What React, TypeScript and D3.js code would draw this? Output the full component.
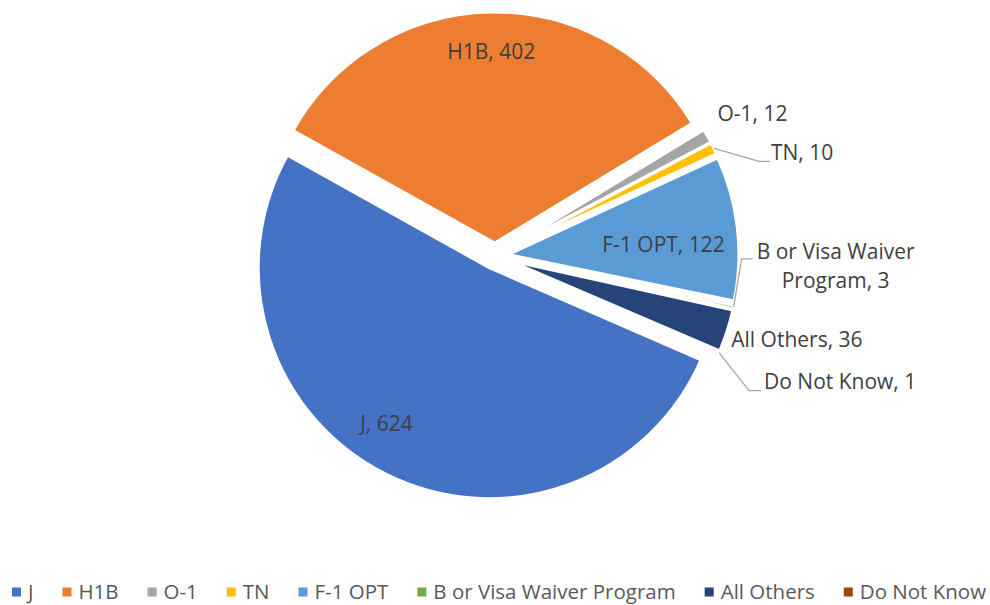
import { useMemo } from "react";
import * as d3 from "d3";

// visa categories and head counts
const categories = [
  "J",
  "H1B",
  "O-1",
  "TN",
  "F-1 OPT",
  "B or Visa Waiver Program",
  "All Others",
  "Do Not Know",
];
const counts = [624, 402, 12, 10, 122, 3, 36, 1];
const colors = ["#4472C4", "#ED7D31", "#A5A5A5", "#FFC000", "#5B9BD5", "#70AD47", "#264478", "#9E480E"];

// label placement (layout only): inside labels use polar offsets, outside ones pixel offsets from the arc edge
type LabelPos =
  | { kind: "in"; r: number; da: number }
  | { kind: "out"; tx: number; ty: number; anchor?: string; leader?: [number, number][] };
const labelPos: LabelPos[] = [
  { kind: "in", r: 0.81, da: 7 },
  { kind: "in", r: 0.83, da: 0 },
  { kind: "out", tx: 10, ty: -22 },
  { kind: "out", tx: 57, ty: 4, leader: [[45, 13], [56, 13]] },
  { kind: "in", r: 0.675, da: 3 },
  { kind: "out", tx: 102, ty: -55, anchor: "middle", leader: [[8, -48], [19, -48]] },
  { kind: "out", tx: 4, ty: 9 },
  { kind: "out", tx: 45, ty: 29, leader: [[30, 38], [42, 38]] },
];

const W = 990;
const H = 605;
const cx = 495;
const cy = 256;
const R = 231;
const explode = 13;
const FONT = "'Open Sans', sans-serif";
const labelSize = 21;
const legendSize = 20.5;

const wrap = (s: string, max: number) => {
  const words = s.split(" ");
  const lines: string[] = [];
  let cur = "";
  words.forEach((w) => {
    const next = cur ? cur + " " + w : w;
    if (next.length > max && cur) {
      lines.push(cur);
      cur = w;
    } else cur = next;
  });
  lines.push(cur);
  return lines;
};

const App = () => {
  const arcs = useMemo(
    () =>
      d3
        .pie<number>()
        .sort(null)
        .startAngle((113.5 * Math.PI) / 180)
        .endAngle((113.5 * Math.PI) / 180 + 2 * Math.PI)(counts),
    []
  );
  const arc = d3.arc<d3.PieArcDatum<number>>().innerRadius(0).outerRadius(R);

  // legend layout from measured text widths
  const legend = useMemo(() => {
    const ctx = document.createElement("canvas").getContext("2d")!;
    ctx.font = `${legendSize}px ${FONT}`;
    const marker = 9;
    const gapIn = 7;
    const gapOut = 29;
    const widths = categories.map((c) => ctx.measureText(c).width);
    const total = widths.reduce((s, w) => s + marker + gapIn + w, 0) + gapOut * (categories.length - 1);
    let x = 499 - total / 2;
    return categories.map((c, i) => {
      const item = { x, c, i };
      x += marker + gapIn + widths[i] + gapOut;
      return item;
    });
  }, []);

  return (
    <svg
      width={W}
      height={H}
      style={{ position: "absolute", left: 0, top: 0, background: "#fff" }}
      fontFamily={FONT}
    >
      {arcs.map((a, i) => {
        const mid = (a.startAngle + a.endAngle) / 2;
        const ox = explode * Math.sin(mid);
        const oy = -explode * Math.cos(mid);
        return (
          <path
            key={categories[i]}
            d={arc(a) || ""}
            transform={`translate(${cx + ox},${cy + oy})`}
            fill={colors[i]}
            stroke="#fff"
            strokeWidth={3}
            strokeLinejoin="round"
          />
        );
      })}
      {arcs.map((a, i) => {
        const mid = (a.startAngle + a.endAngle) / 2;
        const scx = cx + explode * Math.sin(mid);
        const scy = cy - explode * Math.cos(mid);
        const lp = labelPos[i];
        const text = `${categories[i]}, ${counts[i]}`;
        if (lp.kind === "in") {
          const ang = mid + (lp.da * Math.PI) / 180;
          const x = scx + lp.r * R * Math.sin(ang);
          const y = scy - lp.r * R * Math.cos(ang);
          return (
            <text key={text} x={x} y={y} dy="0.35em" textAnchor="middle" fontSize={labelSize} fill="#404040">
              {text}
            </text>
          );
        }
        const ex = scx + R * Math.sin(mid);
        const ey = scy - R * Math.cos(mid);
        const lines = wrap(text, 16);
        const lh = 29;
        return (
          <g key={text}>
            {lp.leader && (
              <polyline
                points={[[0, 0], ...lp.leader].map(([dx, dy]) => `${ex + dx},${ey + dy}`).join(" ")}
                fill="none"
                stroke="#A6A6A6"
                strokeWidth={1.3}
              />
            )}
            <text fontSize={labelSize} fill="#404040" textAnchor={lp.anchor || "start"}>
              {lines.map((l, k) => (
                <tspan key={k} x={ex + lp.tx} y={ey + lp.ty + k * lh} dy="0.35em">
                  {l}
                </tspan>
              ))}
            </text>
          </g>
        );
      })}
      <g transform="translate(0,592)">
        {legend.map((d) => (
          <g key={d.c} transform={`translate(${d.x},0)`}>
            <rect x={0} y={-4.5} width={9} height={9} fill={colors[d.i]} />
            <text x={16} dy="0.35em" fontSize={legendSize} fill="#595959">
              {d.c}
            </text>
          </g>
        ))}
      </g>
    </svg>
  );
};

export default App;
